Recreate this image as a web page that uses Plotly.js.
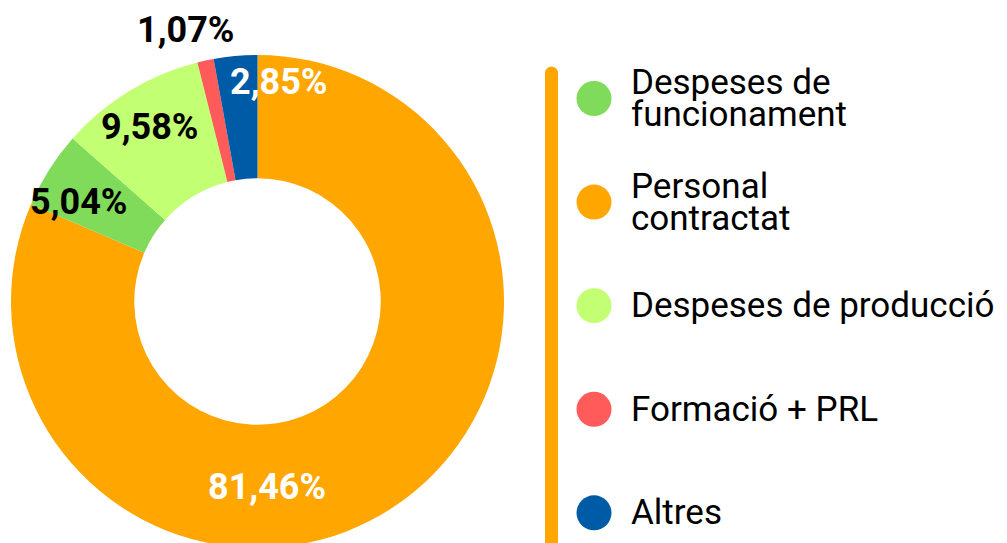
<!DOCTYPE html>
<html><head><meta charset="utf-8">
<script src="https://cdn.plot.ly/plotly-3.0.1.min.js"></script>
<style>html,body{margin:0;padding:0;overflow:hidden;background:#fff}#chart{width:1007px;height:560px}</style>
</head><body><div id="chart"></div>
<script>
// ---- data ----
const categories = ['Personal contractat', 'Despeses de funcionament', 'Despeses de producció', 'Formació + PRL', 'Altres'];
const values = [81.46, 5.04, 9.58, 1.07, 2.85];
const legendOrder = ['Despeses de funcionament', 'Personal contractat', 'Despeses de producció', 'Formació + PRL', 'Altres'];
const legendText = [['Despeses de', 'funcionament'], ['Personal', 'contractat'], ['Despeses de producció'], ['Formació + PRL'], ['Altres']];

// ---- styles ----
const colorMap = {
  'Personal contractat': '#FFA600',
  'Despeses de funcionament': '#80DB5A',
  'Despeses de producció': '#C2FF72',
  'Formació + PRL': '#FF5B5B',
  'Altres': '#005BA6'
};
const labelStyle = {
  'Personal contractat': {color: '#ffffff', px: [266.7, 486.7]},
  'Despeses de funcionament': {color: '#000000', px: [78.8, 201.7]},
  'Despeses de producció': {color: '#000000', px: [149.7, 126.7]},
  'Formació + PRL': {color: '#000000', px: [185, 29.5]},
  'Altres': {color: '#ffffff', px: [278, 81.7]}
};

const W = 1007, H = 560;
const pxX = x => x / W, pxY = y => 1 - y / H;

const pie = {
  type: 'pie', labels: categories, values: values, sort: false,
  direction: 'clockwise', rotation: 0, hole: 0.5, textinfo: 'none',
  hoverinfo: 'label+percent',
  marker: {colors: categories.map(c => colorMap[c]), line: {width: 0}},
  domain: {x: [pxX(11), pxX(504)], y: [pxY(548), pxY(55)]},
  showlegend: false
};

const legendTrace = {
  type: 'scatter', mode: 'markers',
  x: legendOrder.map(() => 0), y: legendOrder,
  marker: {size: 35, color: legendOrder.map(c => colorMap[c]), line: {width: 0}},
  showlegend: false, hoverinfo: 'skip', cliponaxis: false
};

const annotations = [];
legendOrder.forEach((cat, i) => {
  const lines = legendText[i];
  const n = lines.length;
  lines.forEach((ln, j) => {
    annotations.push({
      xref: 'x', yref: 'y', x: 0, y: cat, xshift: 35,
      yshift: ((n - 1) / 2 - j) * 32,
      xanchor: 'left', yanchor: 'middle', showarrow: false,
      text: ln, font: {family: 'Roboto', size: 35, color: '#000'}
    });
  });
});
categories.forEach((cat, i) => {
  const st = labelStyle[cat];
  annotations.push({
    xref: 'paper', yref: 'paper', x: pxX(st.px[0]), y: pxY(st.px[1]),
    xanchor: 'center', yanchor: 'middle', showarrow: false,
    text: values[i].toFixed(2).replace('.', ',') + '%',
    font: {family: 'Roboto', size: 36, color: st.color, weight: 'bold'}
  });
});

const layout = {
  width: W, height: H, margin: {l: 0, r: 0, t: 0, b: 0},
  paper_bgcolor: '#fff', plot_bgcolor: 'rgba(0,0,0,0)',
  xaxis: {range: [-594, 413], visible: false, fixedrange: true},
  yaxis: {type: 'category', range: [4.455, -0.951], visible: false, fixedrange: true},
  shapes: [
    {type: 'rect', xref: 'x', yref: 'paper', x0: -49, x1: -36, y0: 0, y1: pxY(73),
     fillcolor: '#FFA600', line: {width: 0}, layer: 'below'},
    {type: 'circle', xref: 'x', yref: 'paper', x0: -49, x1: -36, y0: pxY(79.5), y1: pxY(66.5),
     fillcolor: '#FFA600', line: {width: 0}, layer: 'below'}
  ],
  annotations: annotations,
  showlegend: false
};

Plotly.newPlot('chart', [pie, legendTrace], layout, {displayModeBar: false, staticPlot: true});
</script>
</body></html>
